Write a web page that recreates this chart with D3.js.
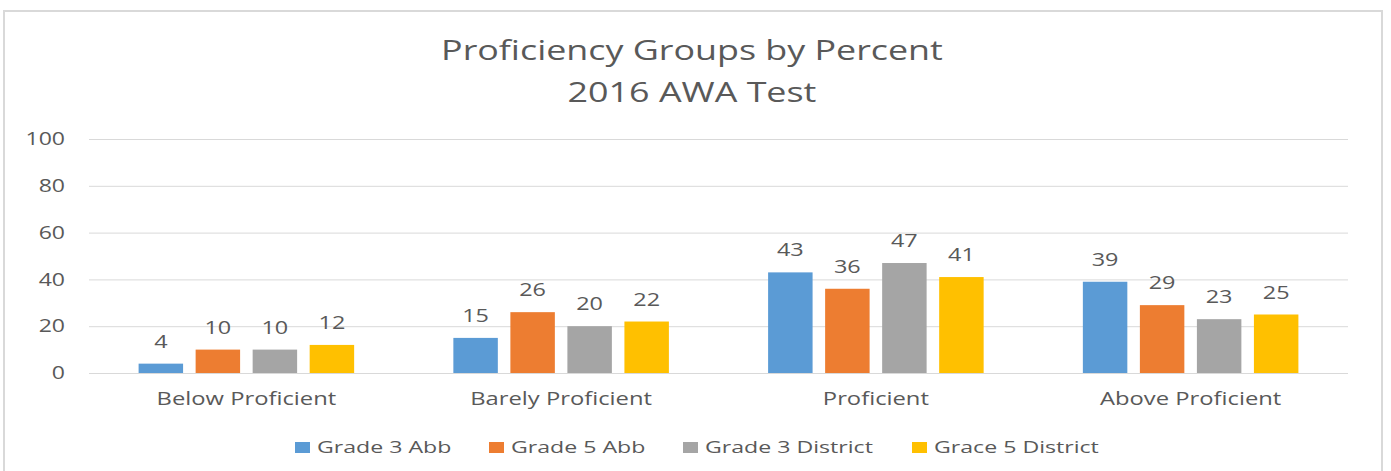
<!DOCTYPE html>
<html>
<head>
<meta charset="utf-8">
<script src="https://cdn.jsdelivr.net/npm/d3@7"></script>
<style>
  body { margin: 0; background: #fff; }
  text { font-family: "Open Sans", "Noto Sans", sans-serif; fill: #595959; }
</style>
</head>
<body>
<div id="chart"></div>
<script>
var categories = ["Below Proficient", "Barely Proficient", "Proficient", "Above Proficient"];
var seriesNames = ["Grade 3 Abb", "Grade 5 Abb", "Grade 3 District", "Grace 5 District"];
var grade3Abb = [4, 15, 43, 39];
var grade5Abb = [10, 26, 36, 29];
var grade3District = [10, 20, 47, 23];
var grace5District = [12, 22, 41, 25];
var yTicks = [0, 20, 40, 60, 80, 100];
var titleLines = ["Proficiency Groups by Percent", "2016 AWA Test"];

var seriesValues = [grade3Abb, grade5Abb, grade3District, grace5District];
var colours = ["#5b9bd5", "#ed7d31", "#a5a5a5", "#ffc000"];

var width = 1391;
var height = 471;
var plot = {left: 89, right: 1348, top: 139, bottom: 373};

// the original picture is stretched sideways, so widen the text to match
function stretch(sel, factor) {
    sel.each(function() {
        var len = this.getComputedTextLength();
        d3.select(this)
            .attr('textLength', len * factor)
            .attr('lengthAdjust', 'spacingAndGlyphs');
    });
}

var svg = d3.select('#chart')
    .append('svg')
    .attr('width', width)
    .attr('height', height);

// chart frame
svg.append('rect')
    .attr('x', 4)
    .attr('y', 11)
    .attr('width', 1378)
    .attr('height', 480)
    .attr('fill', 'none')
    .attr('stroke', '#d9d9d9')
    .attr('stroke-width', 2);

// title
svg.selectAll('.title')
    .data(titleLines)
    .enter().append('text')
    .attr('class', 'title')
    .attr('x', 692)
    .attr('y', function(d, i) { return 60 + i * 42; })
    .attr('text-anchor', 'middle')
    .style('font-size', '28px')
    .text(function(d) { return d; })
    .call(stretch, 1.28);

var y = d3.scaleLinear()
    .domain([0, 100])
    .range([plot.bottom, plot.top]);

var x0 = d3.scaleBand()
    .domain(categories)
    .range([plot.left, plot.right])
    .padding(0);

var x1 = d3.scaleBand()
    .domain(seriesNames)
    .range([0, x0.bandwidth()])
    .paddingInner(0.22)
    .paddingOuter(0.87);

// gridlines
svg.selectAll('.grid')
    .data(yTicks)
    .enter().append('line')
    .attr('class', 'grid')
    .attr('x1', plot.left)
    .attr('x2', plot.right)
    .attr('y1', function(d) { return y(d) + 0.5; })
    .attr('y2', function(d) { return y(d) + 0.5; })
    .style('stroke', '#d9d9d9')
    .style('stroke-width', '1px');

// y axis labels
var yAxis = d3.axisLeft(y)
    .tickValues(yTicks)
    .tickSize(0)
    .tickPadding(24);

svg.append('g')
    .attr('transform', 'translate(' + plot.left + ',0)')
    .call(yAxis)
    .call(function(g) { g.select('.domain').remove(); })
    .selectAll('text')
    .style('font-size', '18px')
    .style('font-family', '"Open Sans", sans-serif')
    .attr('fill', '#595959')
    .call(stretch, 1.28);

// x axis labels
var xAxis = d3.axisBottom(x0)
    .tickSize(0)
    .tickPadding(19);

svg.append('g')
    .attr('transform', 'translate(0,' + plot.bottom + ')')
    .call(xAxis)
    .call(function(g) { g.select('.domain').remove(); })
    .selectAll('text')
    .style('font-size', '18px')
    .style('font-family', '"Open Sans", sans-serif')
    .attr('fill', '#595959')
    .call(stretch, 1.32);

// bars
var groups = svg.selectAll('.group')
    .data(categories)
    .enter().append('g')
    .attr('class', 'group')
    .attr('transform', function(d) { return 'translate(' + x0(d) + ',0)'; });

var cells = groups.selectAll('.bar')
    .data(function(d, ci) {
        return seriesNames.map(function(s, si) {
            return {series: s, index: si, value: seriesValues[si][ci]};
        });
    })
    .enter();

cells.append('rect')
    .attr('class', 'bar')
    .attr('x', function(d) { return x1(d.series); })
    .attr('width', x1.bandwidth())
    .attr('y', function(d) { return y(d.value); })
    .attr('height', function(d) { return y(0) - y(d.value); })
    .style('fill', function(d) { return colours[d.index]; });

cells.append('text')
    .attr('x', function(d) { return x1(d.series) + x1.bandwidth() / 2; })
    .attr('y', function(d) { return y(d.value) - 16; })
    .attr('text-anchor', 'middle')
    .style('font-size', '18px')
    .text(function(d) { return d.value; })
    .call(stretch, 1.3);

// legend
var legendX = [295, 489, 683, 912];
var legend = svg.selectAll('.legend')
    .data(seriesNames)
    .enter().append('g')
    .attr('class', 'legend')
    .attr('transform', function(d, i) { return 'translate(' + legendX[i] + ',447)'; });

legend.append('rect')
    .attr('x', 0)
    .attr('y', -5)
    .attr('width', 15)
    .attr('height', 11)
    .style('fill', function(d, i) { return colours[i]; });

legend.append('text')
    .attr('x', 22)
    .attr('y', 6)
    .style('font-size', '17px')
    .text(function(d) { return d; })
    .call(stretch, 1.36);
</script>
</body>
</html>
